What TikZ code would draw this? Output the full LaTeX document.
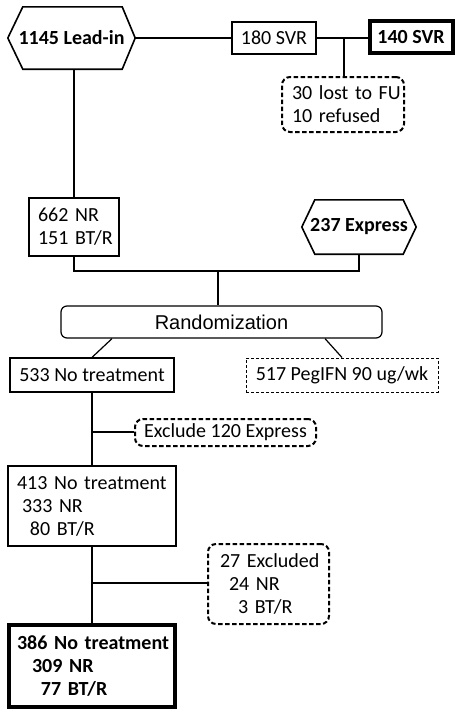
\documentclass[tikz,border=0pt]{standalone}
\usepackage{fontspec}
\setmainfont{Carlito}
\newfontfamily\randfont{Liberation Sans}
\usepackage{tikz}
\usetikzlibrary{shapes,positioning,calc}
\tikzstyle{line} = [line width=1.2pt, black]
\tikzstyle{plainbox} = [rectangle, draw, line width=1.2pt, font=\fontsize{20}{23}\selectfont, inner sep=0pt]
\tikzstyle{boldbox} = [rectangle, draw, line width=4pt, font=\fontsize{20}{23}\selectfont\bfseries, inner sep=0pt]
\tikzstyle{hexbox} = [rectangle, font=\fontsize{20}{23}\selectfont\bfseries, inner sep=0pt]
\tikzstyle{hexline} = [line width=1.6pt, line join=miter]
\tikzstyle{exclbox} = [rectangle, rounded corners=8pt, draw, line width=2pt, dash pattern=on 4.5pt off 2.5pt, font=\fontsize{20}{23}\selectfont, inner sep=0pt]
\tikzstyle{armbox} = [rectangle, draw, line width=1pt, dash pattern=on 3pt off 2pt, font=\fontsize{20}{23}\selectfont, inner sep=0pt]
\tikzstyle{listed} = [align=left, inner xsep=2pt]

\begin{document}
\begin{tikzpicture}[x=1pt,y=-1pt]
\useasboundingbox (0,0) rectangle (462,721);

% Lead-in and SVR
\node[hexbox, minimum width=127pt, minimum height=62pt] (lead) at (71.5,38) {1145 Lead-in};
\draw[hexline] (lead.west) -- ([xshift=15pt]lead.north west) -- ([xshift=-13pt]lead.north east) -- (lead.east) -- ([xshift=-13pt]lead.south east) -- ([xshift=15pt]lead.south west) -- cycle;
\node[plainbox, minimum width=84pt, minimum height=32pt] (svr180) at (274,38) {180 SVR};
\node[boldbox, minimum width=83pt, minimum height=32pt] (svr140) at (411,37) {140 SVR};
\node[exclbox, listed, minimum height=55pt, text width=118pt] (lost) at (343,104.5) {\hspace*{8pt}30 lost to FU\\\hspace*{8pt}10 refused};

% Non-responders and Express
\node[plainbox, listed, minimum height=58pt, text width=86pt] (nr662) at (74,227) {\hspace*{7pt}662 NR\\\hspace*{7pt}151 BT/R};
\node[hexbox, minimum width=114pt, minimum height=54pt] (express) at (359,227) {237 Express};
\draw[hexline] (express.west) -- ([xshift=13pt]express.north west) -- ([xshift=-13pt]express.north east) -- (express.east) -- ([xshift=-13pt]express.south east) -- ([xshift=13pt]express.south west) -- cycle;

% Randomization
\node[rectangle, rounded corners=6pt, draw, line width=1.2pt, minimum width=321pt, minimum height=32pt, font=\randfont\fontsize{20}{23}\selectfont] (rand) at (221.5,322) {Randomization};

% Arms
\node[plainbox, minimum width=164pt, minimum height=34pt] (nt533) at (92,375) {533 No treatment};
\node[armbox, minimum width=192pt, minimum height=34pt] (peg) at (342,375) {517 PegIFN 90 ug/wk};
\node[exclbox, minimum width=181pt, minimum height=27pt] (excl120) at (225.5,432.5) {Exclude 120 Express};
\node[plainbox, listed, minimum height=80pt, text width=164pt] (nt413) at (92,506) {\hspace*{7pt}413 No treatment\\\hspace*{12pt}333 NR\\\hspace*{20pt}80 BT/R};
\node[exclbox, listed, minimum height=80pt, text width=117pt] (excl27) at (268.5,584) {\hspace*{10pt}27 Excluded\\\hspace*{19pt}24 NR\\\hspace*{28pt}3 BT/R};
\node[boldbox, listed, minimum height=82pt, text width=162pt] (nt386) at (92,666) {\hspace*{6pt}386 No treatment\\\hspace*{21pt}309 NR\\\hspace*{30pt}77 BT/R};

% Junctions
\coordinate (j1) at (344,38);
\coordinate (j2) at (218,271);
\coordinate (j3) at (92,432);
\coordinate (j4) at (92,583);

% Connections
\draw[line] (lead.east) -- (svr180.west);
\draw[line] (svr180.east) -- (svr180.east -| svr140.west);
\draw[line] (j1) -- (j1 |- lost.north);
\draw[line] (nr662.north) -- (nr662.north |- lead.south);
\draw[line] (nr662.south) -- (74,271) -| (express.south);
\draw[line] (j2) -- (j2 |- rand.north);
\draw[line] ([xshift=-109.5pt]rand.south) -- (nt533.north);
\draw[line] ([xshift=103.5pt]rand.south) -- (peg.north);
\draw[line] (nt533.south) -- (nt413.north);
\draw[line] (j3) -- (j3 -| excl120.west);
\draw[line] (nt413.south) -- (nt386.north);
\draw[line] (j4) -- (j4 -| excl27.west);
\end{tikzpicture}
\end{document}
